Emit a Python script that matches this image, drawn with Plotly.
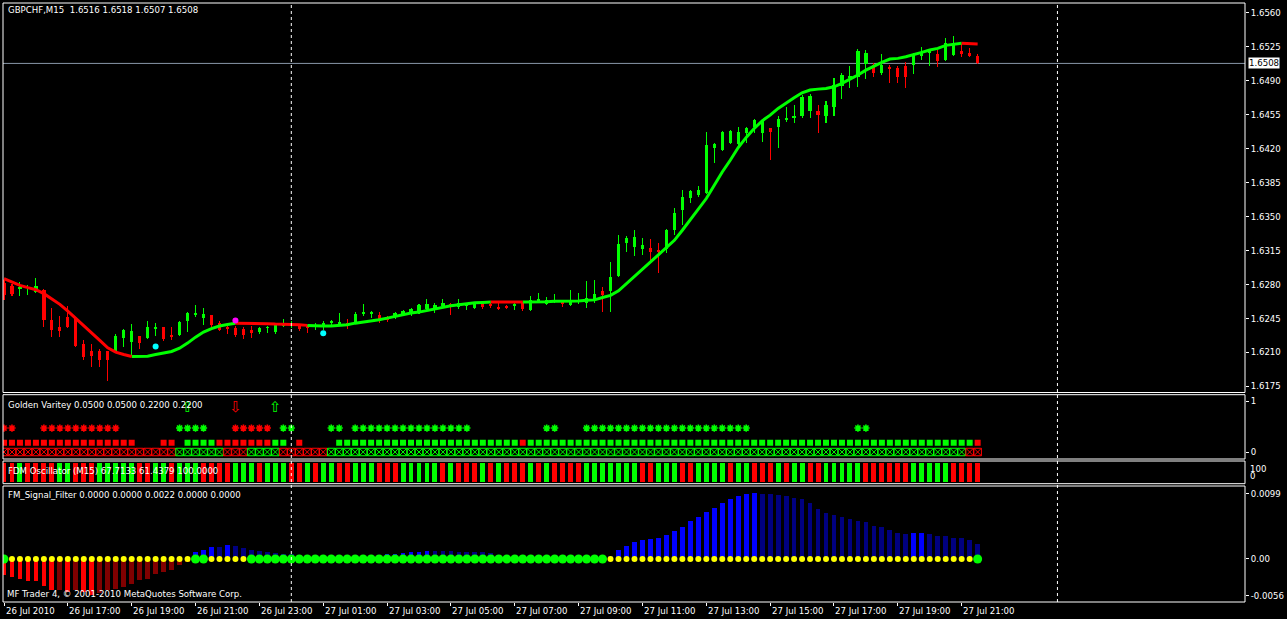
import plotly.graph_objects as go

# ---------------- data ----------------
time_labels = ["26 Jul 2010", "26 Jul 17:00", "26 Jul 19:00", "26 Jul 21:00", "26 Jul 23:00",
               "27 Jul 01:00", "27 Jul 03:00", "27 Jul 05:00", "27 Jul 07:00", "27 Jul 09:00",
               "27 Jul 11:00", "27 Jul 13:00", "27 Jul 15:00", "27 Jul 17:00", "27 Jul 19:00",
               "27 Jul 21:00"]
time_label_bars = [0, 8, 16, 24, 32, 40, 48, 56, 64, 72, 80, 88, 96, 104, 112, 120]
day_separator_bars = [36, 132]

open_ = [1.6282, 1.6278, 1.6275, 1.6276, 1.6272, 1.6274, 1.6243, 1.6236, 1.6247, 1.6246,
         1.6219, 1.6212, 1.6211, 1.6211, 1.6211, 1.6225, 1.6221, 1.6227, 1.6225, 1.6234,
         1.6236, 1.6228, 1.6228, 1.6242, 1.6249, 1.6246, 1.6249, 1.6240, 1.6236, 1.6235,
         1.6234, 1.6233, 1.6231, 1.6235, 1.6231, 1.6237, 1.6238, 1.6238, 1.6237, 1.6236,
         1.6236, 1.6240, 1.6239, 1.6240, 1.6240, 1.6250, 1.6250, 1.6249, 1.6246, 1.6248,
         1.6249, 1.6250, 1.6253, 1.6255, 1.6256, 1.6258, 1.6260, 1.6257, 1.6258, 1.6256,
         1.6260, 1.6260, 1.6257, 1.6258, 1.6258, 1.6261, 1.6254, 1.6263, 1.6260, 1.6262,
         1.6263, 1.6259, 1.6263, 1.6261, 1.6264, 1.6273, 1.6273, 1.6289, 1.6323, 1.6319,
         1.6317, 1.6318, 1.6316, 1.6317, 1.6336, 1.6357, 1.6369, 1.6372, 1.6374, 1.6421,
         1.6419, 1.6426, 1.6425, 1.6436, 1.6442, 1.6436, 1.6441, 1.6442, 1.6450, 1.6452,
         1.6454, 1.6459, 1.6459, 1.6454, 1.6463, 1.6485, 1.6493, 1.6494, 1.6507, 1.6506,
         1.6498, 1.6504, 1.6503, 1.6505, 1.6506, 1.6516, 1.6519, 1.6518, 1.6512, 1.6517,
         1.6521, 1.6519, 1.6516]
high = [1.6285, 1.6281, 1.6283, 1.6280, 1.6287, 1.6275, 1.6256, 1.6248, 1.6258, 1.6247,
        1.6223, 1.6219, 1.6214, 1.6212, 1.6229, 1.6234, 1.6239, 1.6227, 1.6242, 1.6240,
        1.6236, 1.6236, 1.6242, 1.6252, 1.6259, 1.6256, 1.6249, 1.6242, 1.6240, 1.6237,
        1.6236, 1.6237, 1.6236, 1.6237, 1.6240, 1.6245, 1.6242, 1.6239, 1.6238, 1.6240,
        1.6242, 1.6243, 1.6251, 1.6245, 1.6252, 1.6260, 1.6253, 1.6252, 1.6248, 1.6252,
        1.6254, 1.6256, 1.6260, 1.6265, 1.6261, 1.6265, 1.6261, 1.6265, 1.6261, 1.6262,
        1.6261, 1.6261, 1.6262, 1.6259, 1.6262, 1.6262, 1.6268, 1.6271, 1.6267, 1.6270,
        1.6264, 1.6274, 1.6271, 1.6284, 1.6285, 1.6277, 1.6303, 1.6331, 1.6330, 1.6336,
        1.6328, 1.6327, 1.6323, 1.6337, 1.6359, 1.6377, 1.6378, 1.6382, 1.6437, 1.6426,
        1.6438, 1.6439, 1.6442, 1.6442, 1.6451, 1.6450, 1.6441, 1.6454, 1.6463, 1.6465,
        1.6475, 1.6476, 1.6465, 1.6469, 1.6493, 1.6498, 1.6505, 1.6523, 1.6522, 1.6508,
        1.6518, 1.6506, 1.6505, 1.6509, 1.6519, 1.6525, 1.6522, 1.6522, 1.6534, 1.6536,
        1.6528, 1.6524, 1.6518]
low = [1.6264, 1.6268, 1.6268, 1.6269, 1.6271, 1.6236, 1.6226, 1.6226, 1.6235, 1.6216,
       1.6202, 1.6195, 1.6195, 1.6181, 1.6210, 1.6216, 1.6206, 1.6214, 1.6224, 1.6227,
       1.6222, 1.6223, 1.6227, 1.6231, 1.6247, 1.6238, 1.6233, 1.6232, 1.6229, 1.6226,
       1.6224, 1.6225, 1.6229, 1.6230, 1.6229, 1.6236, 1.6235, 1.6232, 1.6230, 1.6233,
       1.6233, 1.6236, 1.6238, 1.6234, 1.6239, 1.6248, 1.6246, 1.6240, 1.6241, 1.6244,
       1.6248, 1.6248, 1.6250, 1.6252, 1.6251, 1.6257, 1.6249, 1.6255, 1.6254, 1.6255,
       1.6255, 1.6256, 1.6254, 1.6255, 1.6254, 1.6253, 1.6253, 1.6262, 1.6259, 1.6261,
       1.6257, 1.6258, 1.6260, 1.6256, 1.6261, 1.6252, 1.6252, 1.6288, 1.6314, 1.6309,
       1.6310, 1.6303, 1.6292, 1.6313, 1.6331, 1.6341, 1.6364, 1.6370, 1.6373, 1.6405,
       1.6418, 1.6425, 1.6422, 1.6426, 1.6436, 1.6427, 1.6408, 1.6421, 1.6448, 1.6447,
       1.6452, 1.6452, 1.6436, 1.6447, 1.6454, 1.6471, 1.6483, 1.6484, 1.6492, 1.6494,
       1.6496, 1.6488, 1.6488, 1.6483, 1.6497, 1.6512, 1.6505, 1.6504, 1.6511, 1.6516,
       1.6515, 1.6515, 1.6507]
close = [1.6269, 1.6270, 1.6277, 1.6277, 1.6278, 1.6243, 1.6233, 1.6232, 1.6236, 1.6217,
         1.6205, 1.6206, 1.6202, 1.6202, 1.6227, 1.6233, 1.6232, 1.6220, 1.6236, 1.6236,
         1.6224, 1.6226, 1.6241, 1.6251, 1.6251, 1.6250, 1.6238, 1.6233, 1.6234, 1.6228,
         1.6228, 1.6230, 1.6235, 1.6236, 1.6239, 1.6238, 1.6239, 1.6234, 1.6235, 1.6238,
         1.6240, 1.6242, 1.6241, 1.6238, 1.6250, 1.6252, 1.6252, 1.6244, 1.6243, 1.6251,
         1.6253, 1.6255, 1.6259, 1.6260, 1.6259, 1.6261, 1.6258, 1.6261, 1.6260, 1.6261,
         1.6257, 1.6258, 1.6255, 1.6256, 1.6260, 1.6255, 1.6264, 1.6265, 1.6264, 1.6264,
         1.6260, 1.6264, 1.6264, 1.6266, 1.6270, 1.6269, 1.6288, 1.6322, 1.6328, 1.6329,
         1.6321, 1.6314, 1.6314, 1.6336, 1.6354, 1.6370, 1.6376, 1.6377, 1.6424, 1.6425,
         1.6437, 1.6438, 1.6437, 1.6441, 1.6450, 1.6449, 1.6437, 1.6451, 1.6452, 1.6454,
         1.6473, 1.6474, 1.6455, 1.6465, 1.6486, 1.6496, 1.6495, 1.6521, 1.6519, 1.6498,
         1.6506, 1.6502, 1.6494, 1.6494, 1.6517, 1.6520, 1.6521, 1.6510, 1.6529, 1.6527,
         1.6518, 1.6516, 1.6508]

ma = [1.62861, 1.62826, 1.62792, 1.62768, 1.62747, 1.62706, 1.62654, 1.62596, 1.62526, 1.62448,
      1.62379, 1.62299, 1.62224, 1.62148, 1.62103, 1.62079, 1.62059, 1.62059, 1.62062, 1.62079,
      1.62093, 1.62110, 1.62144, 1.62196, 1.62258, 1.62310, 1.62345, 1.62372, 1.62389, 1.62402,
      1.62402, 1.62402, 1.62396, 1.62396, 1.62392, 1.62392, 1.62389, 1.62386, 1.62379, 1.62372,
      1.62372, 1.62372, 1.62376, 1.62386, 1.62402, 1.62413, 1.62430, 1.62438, 1.62454, 1.62472,
      1.62489, 1.62506, 1.62516, 1.62534, 1.62547, 1.62568, 1.62582, 1.62592, 1.62606, 1.62613,
      1.62616, 1.62619, 1.62619, 1.62619, 1.62619, 1.62619, 1.62619, 1.62623, 1.62623, 1.62627,
      1.62627, 1.62630, 1.62630, 1.62637, 1.62642, 1.62666, 1.62688, 1.62735, 1.62809, 1.62885,
      1.62964, 1.63032, 1.63112, 1.63187, 1.63256, 1.63360, 1.63470, 1.63584, 1.63687, 1.63824,
      1.63961, 1.64082, 1.64213, 1.64317, 1.64409, 1.64488, 1.64547, 1.64616, 1.64674, 1.64727,
      1.64777, 1.64805, 1.64815, 1.64822, 1.64839, 1.64874, 1.64918, 1.64960, 1.65011, 1.65053,
      1.65091, 1.65125, 1.65132, 1.65149, 1.65169, 1.65194, 1.65218, 1.65235, 1.65266, 1.65280,
      1.65287, 1.65287, 1.65280]
# MA trend per bar (run lengths): 1 = up (green), 0 = down (red)
ma_trend_runs = [(0, 17), (1, 13), (0, 9), (1, 23), (0, 4), (1, 55), (0, 2)]

cyan_bars = [19, 40]
cyan_vals = [1.62162, 1.62299]
magenta_bars = [29]
magenta_vals = [1.62430]
current_price = 1.6508

# Golden Varitey indicator
gv_up_arrow_bars = [23, 34]
gv_dn_arrow_bars = [29]
gv_star_green = [22, 23, 24, 25, 35, 36, 41, 42] + list(range(44, 59)) + [68, 69] + list(range(73, 94)) + [107, 108]
gv_star_red = [0, 1] + list(range(5, 15)) + list(range(29, 34))
# square row runs: 'r', 'g' or '' (none)
gv_square_runs = [("r", 17), ("", 3), ("r", 2), ("", 1), ("g", 4), ("r", 7), ("g", 2), ("", 1),
                  ("r", 1), ("", 4), ("g", 23), ("r", 1), ("g", 56), ("r", 1)]
gv_box_runs = [("r", 22), ("g", 6), ("r", 3), ("g", 4), ("r", 6), ("g", 80), ("r", 2)]

# FDM oscillator colour per bar (bars 0-40, 41-81, 82-122)
fdm = ("rrgrrrrggrrrgggggrrggrgggrrrrgggrgggrrgrg"
       "grrgggrrrgggggrgrrrgrgrrrgrgrrrrgggggggrr"
       "gggrrggggrggrrrgrggrrgggggrrrrrrgggggrrrr")

# FM_Signal_Filter histogram values and colour runs
fm_vals = [-0.0025, -0.0028, -0.0030, -0.0034, -0.0034, -0.0041, -0.0047, -0.0047, -0.0050, -0.0047,
           -0.0050, -0.0054, -0.0052, -0.0047, -0.0045, -0.0043, -0.0038, -0.0032, -0.0031, -0.0023,
           -0.0020, -0.0016, -0.0009, -0.0004, 0.0010, 0.0013, 0.0018, 0.0018, 0.0021, 0.0019,
           0.0016, 0.0013, 0.0012, 0.0010, 0.0009, 0.0008, 0.0007, 0.0006, 0.0005, 0.0005,
           0.0004, 0.0004, 0.0004, 0.0004, 0.0004, 0.0004, 0.0005, 0.0006, 0.0007, 0.0008,
           0.0009, 0.0010, 0.0011, 0.0012, 0.0012, 0.0012, 0.0012, 0.0011, 0.0010, 0.0010,
           0.0010, 0.0009, 0.0006, 0.0004, 0.0003, 0.0002, 0.0002, 0.0002, 0.0002, 0.0002,
           0.0002, 0.0002, 0.0002, 0.0002, 0.0002, 0.0003, 0.0005, 0.0014, 0.0020, 0.0026,
           0.0029, 0.0030, 0.0032, 0.0036, 0.0042, 0.0048, 0.0057, 0.0063, 0.0071, 0.0077,
           0.0085, 0.0091, 0.0095, 0.0098, 0.0100, 0.0099, 0.0098, 0.0097, 0.0095, 0.0093,
           0.0091, 0.0085, 0.0076, 0.0069, 0.0066, 0.0064, 0.0060, 0.0058, 0.0056, 0.0050,
           0.0048, 0.0044, 0.0040, 0.0038, 0.0040, 0.0040, 0.0038, 0.0035, 0.0035, 0.0032,
           0.0032, 0.0029, 0.0022]
# R = bright red, D = dark red, B = bright blue, N = navy
fm_col_runs = [("R", 7), ("D", 1), ("R", 1), ("D", 1), ("R", 2), ("D", 12),
               ("B", 3), ("N", 1), ("B", 1), ("N", 16), ("B", 9), ("N", 23),
               ("B", 18), ("N", 19), ("B", 2), ("N", 7)]
# signal dots: G = green (big), Y = yellow
fm_dot_runs = [("G", 1), ("Y", 23), ("G", 2), ("Y", 5), ("G", 45), ("Y", 46), ("G", 1)]


def expand(runs):
    out = []
    for code, cnt in runs:
        out += [code] * cnt
    return out


ma_trend = expand(ma_trend_runs)
gv_square = expand(gv_square_runs)
gv_box = expand(gv_box_runs)
fm_col = expand(fm_col_runs)
fm_dot = expand(fm_dot_runs)

# ---------------- style / helpers ----------------
GREEN = "#00FF00"
RED = "#FF0000"
DRED = "#800000"
BLUE = "#0000FF"
NAVY = "#000080"
YELLOW = "#FFFF00"
WHITE = "#FFFFFF"
FONT = "DejaVu Sans"
FS = 8.6

W, H = 1287, 619
ML, MR, MT, MB = 3, 39, 3, 17
PH = H - MT - MB


def py(ypx):
    return (H - MB - ypx) / PH


def pxx(xpx):
    return (xpx - ML) / (W - ML - MR)


n = len(open_)
idx = list(range(n))
cmap = {"r": RED, "g": GREEN}
candle_col = [GREEN if c >= o else RED for o, c in zip(open_, close)]

fig = go.Figure()

# candles: wicks and bodies
fig.add_trace(go.Bar(x=idx, y=[h - l for h, l in zip(high, low)], base=low, width=0.13,
                     marker=dict(color=candle_col, line=dict(width=0)), yaxis="y", hoverinfo="skip"))
fig.add_trace(go.Bar(x=idx, y=[max(abs(c - o), 0.00007) for o, c in zip(open_, close)],
                     base=[min(o, c) for o, c in zip(open_, close)], width=0.4,
                     marker=dict(color=candle_col, line=dict(width=0)), yaxis="y", hoverinfo="skip"))

# MA coloured line
for trend, col in [(1, GREEN), (0, RED)]:
    ys = []
    for i in range(n):
        if ma_trend[i] == trend or (i + 1 < n and ma_trend[i + 1] == trend):
            ys.append(ma[i])
        else:
            ys.append(None)
    fig.add_trace(go.Scatter(x=idx, y=ys, mode="lines", line=dict(color=col, width=3),
                             connectgaps=False, yaxis="y", hoverinfo="skip"))

fig.add_trace(go.Scatter(x=cyan_bars, y=cyan_vals, mode="markers",
                         marker=dict(color="#00FFFF", size=6), yaxis="y"))
fig.add_trace(go.Scatter(x=magenta_bars, y=magenta_vals, mode="markers",
                         marker=dict(color="#FF00FF", size=6), yaxis="y"))

# Golden Varitey
fig.add_trace(go.Scatter(x=idx, y=[0] * n, mode="markers", yaxis="y2",
                         marker=dict(symbol="square-x-open", size=7.5,
                                     color=[cmap[c] for c in gv_box], line=dict(width=1))))
sq_x = [i for i in idx if gv_square[i]]
fig.add_trace(go.Scatter(x=sq_x, y=[0.18] * len(sq_x), mode="markers", yaxis="y2",
                         marker=dict(symbol="square", size=6, color=[cmap[gv_square[i]] for i in sq_x],
                                     line=dict(width=0))))
fig.add_trace(go.Scatter(x=gv_star_green, y=[0.47] * len(gv_star_green), mode="markers", yaxis="y2",
                         marker=dict(symbol="asterisk-open", size=6, color=GREEN, line=dict(width=1.6, color=GREEN))))
fig.add_trace(go.Scatter(x=gv_star_red, y=[0.47] * len(gv_star_red), mode="markers", yaxis="y2",
                         marker=dict(symbol="asterisk-open", size=6, color=RED, line=dict(width=1.6, color=RED))))
fig.add_trace(go.Scatter(x=gv_up_arrow_bars, y=[0.86] * len(gv_up_arrow_bars), mode="text", yaxis="y2",
                         text=["⇧"] * len(gv_up_arrow_bars), textfont=dict(color=GREEN, size=15, family=FONT)))
fig.add_trace(go.Scatter(x=gv_dn_arrow_bars, y=[0.86] * len(gv_dn_arrow_bars), mode="text", yaxis="y2",
                         text=["⇩"] * len(gv_dn_arrow_bars), textfont=dict(color=RED, size=15, family=FONT)))

# FDM oscillator
fig.add_trace(go.Bar(x=idx, y=[100] * n, width=0.62, yaxis="y3",
                     marker=dict(color=[cmap[c] for c in fdm], line=dict(width=0))))

# FM signal filter
fmmap = {"R": RED, "D": DRED, "B": BLUE, "N": NAVY}
fig.add_trace(go.Bar(x=idx, y=fm_vals, width=0.6, yaxis="y4",
                     marker=dict(color=[fmmap[c] for c in fm_col], line=dict(width=0))))
yx = [i for i in idx if fm_dot[i] == "Y"]
gx = [i for i in idx if fm_dot[i] == "G"]
fig.add_trace(go.Scatter(x=yx, y=[0] * len(yx), mode="markers", yaxis="y4",
                         marker=dict(color=YELLOW, size=6, line=dict(width=0))))
fig.add_trace(go.Scatter(x=gx, y=[0] * len(gx), mode="markers", yaxis="y4",
                         marker=dict(color=GREEN, size=9, line=dict(width=0))))

# ---------------- layout ----------------
dom_main = [py(392.5), 1]
dom_gv = [py(459), py(394.7)]
dom_fdm = [py(483.7), py(461)]
dom_fm = [0, py(486)]

axis_common = dict(showgrid=False, zeroline=False, side="right", ticks="outside", ticklen=3,
                   tickcolor=WHITE, tickwidth=1, tickfont=dict(color=WHITE, size=FS, family=FONT),
                   showline=False, anchor="x", fixedrange=True)

price_ticks = [1.6175 + 0.0035 * k for k in range(12)]

fig.update_layout(
    width=W, height=H, margin=dict(l=ML, r=MR, t=MT, b=MB),
    paper_bgcolor="black", plot_bgcolor="black", showlegend=False, barmode="overlay",
    bargap=0, font=dict(family=FONT, size=FS, color=WHITE),
    xaxis=dict(range=[-0.125, 155.5], anchor="y4", showgrid=False, zeroline=False,
               tickvals=time_label_bars, ticktext=[""] * len(time_label_bars), ticks="outside",
               ticklen=3, tickcolor=WHITE, showline=False, fixedrange=True),
    yaxis=dict(domain=dom_main, range=[1.61687, 1.65703], tickvals=price_ticks,
               ticktext=["%.4f" % v for v in price_ticks], **axis_common),
    yaxis2=dict(domain=dom_gv, range=[-0.137, 1.1235], tickvals=[0, 1], ticktext=["0", "1"], **axis_common),
    yaxis3=dict(domain=dom_fdm, range=[-9, 110.5], showticklabels=False,
                **{k: v for k, v in axis_common.items() if k not in ("ticks",)}, ticks=""),
    yaxis4=dict(domain=dom_fm, range=[-0.00652, 0.01106], tickvals=[0.0099, 0, -0.0056],
                ticktext=["0.0099", "0.00", "-0.0056"], **axis_common),
)

shapes = []
for d in (dom_main, dom_gv, dom_fdm, dom_fm):
    shapes.append(dict(type="rect", xref="paper", yref="paper", x0=0, x1=1, y0=d[0], y1=d[1],
                       line=dict(color=WHITE, width=1), fillcolor="rgba(0,0,0,0)", layer="above"))
for b in day_separator_bars:
    shapes.append(dict(type="line", xref="x", yref="paper", x0=b, x1=b, y0=0, y1=1,
                       line=dict(color=WHITE, width=1, dash="3px,3px"), layer="above"))
shapes.append(dict(type="line", xref="paper", yref="y", x0=0, x1=1, y0=current_price, y1=current_price,
                   line=dict(color="#8896A8", width=1), layer="below"))
fig.update_layout(shapes=shapes)

ann = []


def text(xpx, ypx, s, **kw):
    d = dict(xref="paper", yref="paper", x=pxx(xpx), y=py(ypx), text=s, showarrow=False,
             xanchor="left", yanchor="middle", font=dict(color=WHITE, size=FS, family=FONT))
    d.update(kw)
    ann.append(d)


text(6, 10.5, "GBPCHF,M15  1.6516 1.6518 1.6507 1.6508")
text(6, 405, "Golden Varitey 0.0500 0.0500 0.2200 0.2200")
text(6, 471, "FDM Oscillator (M15) 67.7133 61.4379 100.0000")
text(6, 495, "FM_Signal_Filter 0.0000 0.0000 0.0022 0.0000 0.0000")
text(5, 594, "MF Trader 4, © 2001-2010 MetaQuotes Software Corp.")
text(1251, 468.5, "100")
text(1251, 476.5, "0")
ann.append(dict(xref="paper", yref="y", x=1, y=current_price, text="1.6508", showarrow=False,
                xanchor="left", yanchor="middle", xshift=3, bgcolor=WHITE, borderpad=0,
                font=dict(color="black", size=FS, family=FONT)))
for b, lab in zip(time_label_bars, time_labels):
    ann.append(dict(xref="x", yref="paper", x=b, y=py(611), text=lab, showarrow=False,
                    xanchor="left", yanchor="middle", xshift=-0.5,
                    font=dict(color=WHITE, size=FS, family=FONT)))
fig.update_layout(annotations=ann)

fig.write_html("out.html", config={"displayModeBar": False, "staticPlot": True},
               post_script="document.body.style.margin='0px';document.body.style.overflow='hidden';")
